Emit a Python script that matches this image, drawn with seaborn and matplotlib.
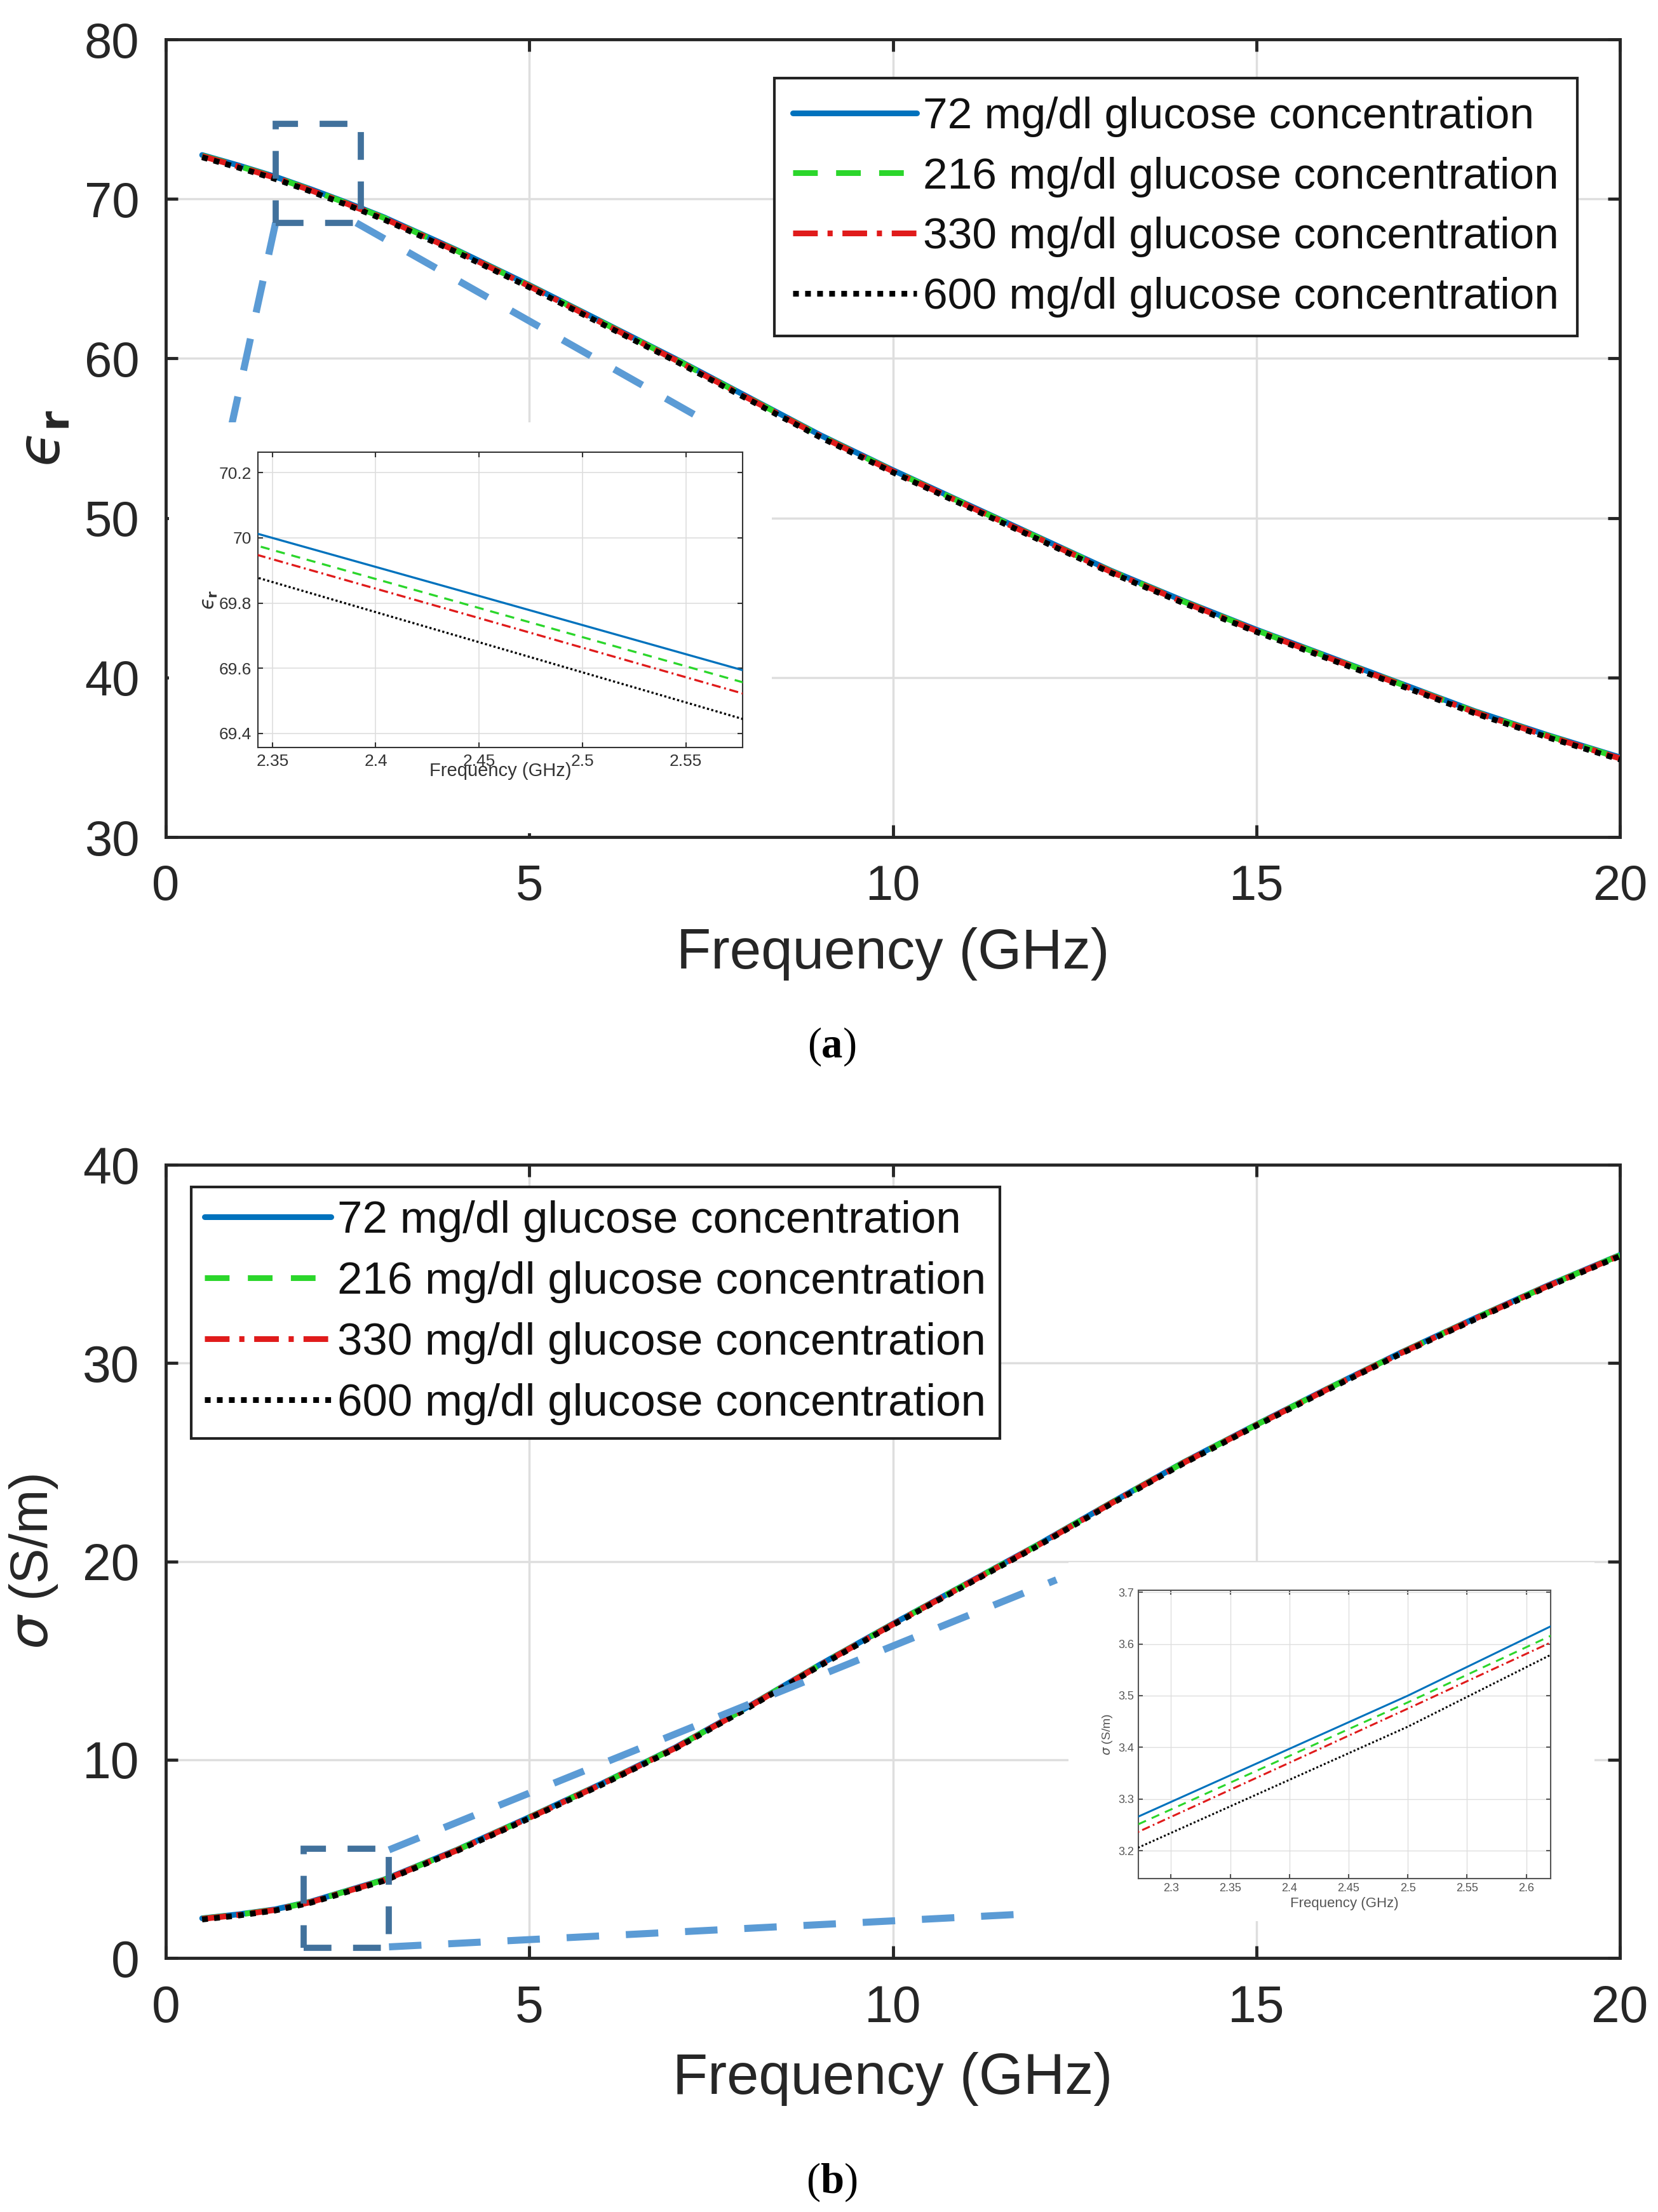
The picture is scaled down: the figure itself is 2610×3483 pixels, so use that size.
import numpy as np
import pandas as pd
import matplotlib
matplotlib.use("Agg")
import matplotlib.pyplot as plt
import seaborn as sns
from matplotlib.patches import Rectangle
from matplotlib.offsetbox import TextArea, HPacker, AnchoredOffsetbox

# ---------------- data ----------------
LABELS = ["72 mg/dl glucose concentration", "216 mg/dl glucose concentration",
          "330 mg/dl glucose concentration", "600 mg/dl glucose concentration"]

FREQ = [0.5, 1, 1.5, 2, 2.5, 3, 4, 5, 6, 7, 8, 9, 10, 11, 12, 13, 14, 15, 16, 17, 18, 19, 20]

EPS_72 = [72.75, 72.10, 71.40, 70.60, 69.75, 68.85, 66.80, 64.60, 62.30, 60.00, 57.60, 55.20,
          53.00, 50.90, 48.80, 46.70, 44.80, 43.00, 41.30, 39.60, 37.90, 36.40, 35.00]
EPS_216 = [72.71, 72.06, 71.36, 70.56, 69.71, 68.81, 66.76, 64.56, 62.26, 59.96, 57.56, 55.16,
           52.96, 50.86, 48.76, 46.66, 44.76, 42.96, 41.26, 39.56, 37.86, 36.36, 34.96]
EPS_330 = [72.68, 72.03, 71.33, 70.53, 69.68, 68.78, 66.73, 64.53, 62.23, 59.93, 57.53, 55.13,
           52.93, 50.83, 48.73, 46.63, 44.73, 42.93, 41.23, 39.53, 37.83, 36.33, 34.93]
EPS_600 = [72.61, 71.96, 71.26, 70.46, 69.61, 68.71, 66.66, 64.46, 62.16, 59.86, 57.46, 55.06,
           52.86, 50.76, 48.66, 46.56, 44.66, 42.86, 41.16, 39.46, 37.76, 36.26, 34.86]

SIG_72 = [2.00, 2.20, 2.45, 2.85, 3.40, 3.95, 5.45, 7.10, 8.80, 10.60, 12.65, 14.80,
          16.85, 18.85, 20.85, 22.95, 25.00, 26.90, 28.75, 30.55, 32.25, 33.90, 35.45]
SIG_216 = [1.985, 2.185, 2.435, 2.835, 3.385, 3.935, 5.435, 7.085, 8.785, 10.585, 12.635, 14.785,
           16.835, 18.835, 20.835, 22.935, 24.985, 26.885, 28.735, 30.535, 32.235, 33.885, 35.435]
SIG_330 = [1.97, 2.17, 2.42, 2.82, 3.37, 3.92, 5.42, 7.07, 8.77, 10.57, 12.62, 14.77,
           16.82, 18.82, 20.82, 22.92, 24.97, 26.87, 28.72, 30.52, 32.22, 33.87, 35.42]
SIG_600 = [1.94, 2.14, 2.39, 2.79, 3.34, 3.89, 5.39, 7.04, 8.74, 10.54, 12.59, 14.74,
           16.79, 18.79, 20.79, 22.89, 24.94, 26.84, 28.69, 30.49, 32.19, 33.84, 35.39]

# zoomed inset (a)
FREQ_ZA = [2.30, 2.45, 2.60]
EPS_ZA_72 = [70.089, 69.822, 69.554]
EPS_ZA_216 = [70.052, 69.785, 69.517]
EPS_ZA_330 = [70.025, 69.754, 69.482]
EPS_ZA_600 = [69.957, 69.680, 69.403]

# zoomed inset (b)
FREQ_ZB = [2.25, 2.50, 2.75]
SIG_ZB_72 = [3.243, 3.500, 3.778]
SIG_ZB_216 = [3.228, 3.487, 3.754]
SIG_ZB_330 = [3.213, 3.475, 3.740]
SIG_ZB_600 = [3.183, 3.440, 3.728]

# ---------------- style ----------------
sns.set_style("white")
plt.rcParams["font.family"] = ["Liberation Sans", "DejaVu Sans"]
plt.rcParams["mathtext.fontset"] = "dejavusans"

COLORS = ["#0072BD", "#2bd62b", "#e01b1b", "#000000"]
LSTYLES = ["-", (0, (4.3, 3.2)), (0, (4.3, 1.7, 0.9, 1.7)), (0, (1, 1.1))]
TXT = "#262626"
GRID = "#dedede"
RECT_C = "#41719C"
CONN_C = "#5B9BD5"
EPS_LABEL = "$\u03f5_{\\mathbf{r}}$"

W, H = 2610, 3483
fig = plt.figure(figsize=(W / 100, H / 100), dpi=100)
fig.patch.set_facecolor("white")


def fx(px):
    return px / W


def fy(py):
    return 1 - py / H


def style_axes(ax, labelsize, spine_w, tick_len, pad, color=TXT, grid_w=2.5):
    for s in ax.spines.values():
        s.set_visible(True)
        s.set_color(color)
        s.set_linewidth(spine_w)
    ax.tick_params(axis="both", which="both", direction="in", length=tick_len, width=spine_w,
                   color=color, labelcolor=color, labelsize=labelsize, pad=pad,
                   top=True, right=True, bottom=True, left=True)
    ax.grid(True, color=GRID, linewidth=grid_w, zorder=0)
    ax.set_axisbelow(True)


def draw_lines(ax, x, series, lw, with_label):
    for y, c, ls, lab in zip(series, COLORS, LSTYLES, LABELS):
        df = pd.DataFrame({"f": x, "v": y})
        sns.lineplot(data=df, x="f", y="v", ax=ax, color=c, linestyle=ls, linewidth=lw,
                     label=lab if with_label else None, legend=False, zorder=3)


def main_legend(ax, loc, anchor, fs, bpad, lspace):
    leg = ax.legend(handles=ax.get_lines()[:4], labels=LABELS, loc=loc,
                    bbox_to_anchor=anchor, bbox_transform=fig.transFigure,
                    fontsize=fs, frameon=True, fancybox=False, framealpha=1, edgecolor="#222222",
                    handlelength=2.8, handletextpad=0.15, labelspacing=lspace, borderpad=bpad,
                    borderaxespad=0)
    leg.get_frame().set_linewidth(3)
    for t in leg.get_texts():
        t.set_color("#111111")
    return leg


# ---------------- panel (a) ----------------
axa = fig.add_axes([fx(261), fy(1318), fx(2550) - fx(261), fy(62) - fy(1318)])
draw_lines(axa, FREQ, [EPS_72, EPS_216, EPS_330, EPS_600], 6.5, True)
axa.set_xlim(0, 20)
axa.set_ylim(30, 80)
axa.set_xticks([0, 5, 10, 15, 20])
axa.set_yticks([30, 40, 50, 60, 70, 80])
style_axes(axa, 56, 3.5, 14, 30)
axa.set_xlabel("Frequency (GHz)", fontsize=64, color=TXT, labelpad=20)
axa.set_ylabel(EPS_LABEL, fontsize=66, color=TXT, labelpad=14)
main_legend(axa, "upper right", (fx(2483), fy(123)), 50, 0.42, 0.44)

# zoom box + connectors (a)
axa.add_patch(Rectangle((1.51, 68.5), 1.17, 6.2, fill=False, edgecolor=RECT_C, linewidth=7,
                        linestyle=(0, (4.5, 3.5)), zorder=6))
axa.plot([1.51, 0.90], [68.5, 55.7], color=CONN_C, linewidth=8, linestyle=(0, (4.6, 3.8)), zorder=5)
axa.plot([2.62, 7.57], [68.5, 55.7], color=CONN_C, linewidth=8, linestyle=(0, (4.6, 3.8)), zorder=5)

# white backing of inset (a)
fig.add_artist(Rectangle((fx(266), fy(1312)), fx(1215) - fx(266), fy(665) - fy(1312),
                         transform=fig.transFigure, facecolor="white", edgecolor="none", zorder=1))

ina = fig.add_axes([fx(406), fy(1177), fx(1169) - fx(406), fy(712) - fy(1177)], zorder=3)
draw_lines(ina, FREQ_ZA, [EPS_ZA_72, EPS_ZA_216, EPS_ZA_330, EPS_ZA_600], 2.4, False)
ina.set_xlim(2.343, 2.5775)
ina.set_ylim(69.357, 70.263)
ina.set_xticks([2.35, 2.4, 2.45, 2.5, 2.55])
ina.set_xticklabels(["2.35", "2.4", "2.45", "2.5", "2.55"])
ina.set_yticks([69.4, 69.6, 69.8, 70.0, 70.2])
ina.set_yticklabels(["69.4", "69.6", "69.8", "70", "70.2"])
style_axes(ina, 19, 1.5, 6, 7, color="#333333", grid_w=1.2)
ina.set_xlabel("Frequency (GHz)", fontsize=21, color="#333333", labelpad=-8)
ina.set_ylabel(EPS_LABEL, fontsize=22, color="#333333", labelpad=0)

# ---------------- panel (b) ----------------
axb = fig.add_axes([fx(261), fy(3083), fx(2550) - fx(261), fy(1834) - fy(3083)])
draw_lines(axb, FREQ, [SIG_72, SIG_216, SIG_330, SIG_600], 6.5, True)
axb.set_xlim(0, 20)
axb.set_ylim(0, 40)
axb.set_xticks([0, 5, 10, 15, 20])
axb.set_yticks([0, 10, 20, 30, 40])
style_axes(axb, 58, 3.5, 14, 30)
axb.set_xlabel("Frequency (GHz)", fontsize=65, color=TXT, labelpad=22)
axb.set_ylabel(r"$\sigma$ (S/m)", fontsize=60, color=TXT, labelpad=26)
main_legend(axb, "upper left", (fx(301), fy(1869)), 51, 0.3, 0.42)

axb.add_patch(Rectangle((1.90, 0.5), 1.17, 5.0, fill=False, edgecolor=RECT_C, linewidth=7,
                        linestyle=(0, (4.5, 3.5)), zorder=6))
axb.plot([3.07, 12.25], [5.45, 19.07], color=CONN_C, linewidth=8, linestyle=(0, (4.6, 3.8)), zorder=5)
axb.plot([3.07, 12.0], [0.56, 2.25], color=CONN_C, linewidth=8, linestyle=(0, (4.6, 3.8)), zorder=5)

fig.add_artist(Rectangle((fx(1682), fy(3025)), fx(2510) - fx(1682), fy(2460) - fy(3025),
                         transform=fig.transFigure, facecolor="white", edgecolor="none", zorder=1))

inb = fig.add_axes([fx(1792), fy(2958), fx(2441) - fx(1792), fy(2504) - fy(2958)], zorder=3)
draw_lines(inb, FREQ_ZB, [SIG_ZB_72, SIG_ZB_216, SIG_ZB_330, SIG_ZB_600], 2.2, False)
inb.set_xlim(2.2724, 2.6206)
inb.set_ylim(3.146, 3.704)
inb.set_xticks([2.3, 2.35, 2.4, 2.45, 2.5, 2.55, 2.6])
inb.set_xticklabels(["2.3", "2.35", "2.4", "2.45", "2.5", "2.55", "2.6"])
inb.set_yticks([3.2, 3.3, 3.4, 3.5, 3.6, 3.7])
style_axes(inb, 13, 1.5, 5, 5, color="#555555", grid_w=1.0)
inb.set_xlabel("Frequency (GHz)", fontsize=16, color="#555555", labelpad=4)
inb.set_ylabel(r"$\sigma$ (S/m)", fontsize=14, color="#555555", labelpad=4)


# ---------------- captions ----------------
def caption(letter, cx, cy):
    tp = dict(fontsize=48, family="Liberation Serif", color="black")
    tb = dict(fontsize=48, family="Liberation Serif", color="black", weight="bold")
    box = HPacker(children=[TextArea("(", textprops=tp), TextArea(letter, textprops=tb),
                            TextArea(")", textprops=tp)], align="baseline", pad=0, sep=0)
    ab = AnchoredOffsetbox(loc="center", child=box, pad=0, borderpad=0, frameon=False,
                           bbox_to_anchor=(cx, cy), bbox_transform=fig.transFigure)
    fig.add_artist(ab)


caption("a", fx(1310), fy(1648))
caption("b", fx(1310), fy(3436))

fig.savefig("out.png", dpi=100, facecolor="white")
